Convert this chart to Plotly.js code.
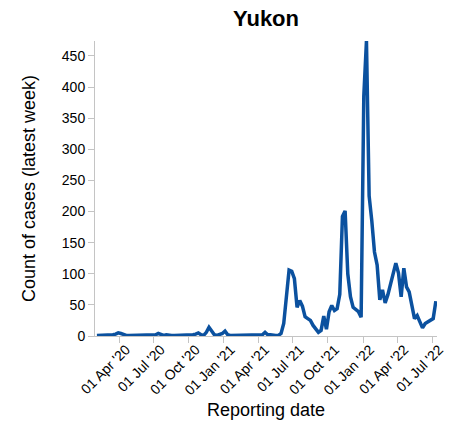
<!DOCTYPE html>
<html>
<head>
<meta charset="utf-8">
<script src="https://cdn.plot.ly/plotly-3.0.1.min.js"></script>
<style>
  html, body { margin: 0; padding: 0; background: #fff; }
  #chart { width: 452px; height: 427px; }
</style>
</head>
<body>
<div id="chart"></div>
<script>
// Weekly reporting dates start (one point per week)
const firstWeek = '2020-02-03';

// Count of cases (latest week), Yukon
const cases = [
  1, 1, 1, 1, 1, 1, 2, 3, 5, 4,
  2, 1, 1, 1, 1, 1, 1, 1, 1, 1,
  1, 1, 2, 4, 2, 1, 2, 1, 1, 1,
  1, 1, 1, 1, 1, 1, 2, 3, 5, 2,
  1, 6, 14, 8, 2, 1, 2, 4, 8, 2,
  1, 1, 1, 1, 1, 2, 1, 1, 1, 1,
  2, 1, 2, 6, 2, 2, 1, 1, 1, 4,
  20, 65, 106, 104, 92, 46, 57, 48, 31, 28,
  25, 17, 12, 6, 9, 32, 11, 39, 49, 41,
  44, 67, 192, 201, 100, 63, 46, 42, 39, 30,
  385, 474, 225, 185, 135, 114, 58, 74, 53, 66,
  82, 99, 117, 101, 63, 109, 79, 71, 49, 28,
  33, 22, 13, 20, 23, 26, 28, 56
];

const titleText = 'Yukon';
const xTitle = 'Reporting date';
const yTitle = 'Count of cases (latest week)';

const startMs = Date.parse(firstWeek + 'T00:00:00Z');
const dates = [];
for (let i = 0; i < cases.length; i++) {
  dates.push(new Date(startMs + i * 7 * 86400000).toISOString().slice(0, 10));
}

const axisGrey = '#c4c4c4';
const font = 'Liberation Sans, Arial, sans-serif';

const trace = {
  x: dates,
  y: cases,
  type: 'scatter',
  mode: 'lines',
  line: { color: '#0b519f', width: 3.5 },
  hoverinfo: 'x+y'
};

const layout = {
  width: 452,
  height: 427,
  margin: { l: 95, r: 15, t: 41, b: 91 },
  paper_bgcolor: '#fff',
  plot_bgcolor: '#fff',
  font: { family: font, color: '#000' },
  showlegend: false,
  title: {
    text: '<b>' + titleText + '</b>',
    font: { family: font, size: 22, color: '#000' },
    xref: 'paper', x: 0.5, xanchor: 'center',
    yref: 'container', y: 1 - 18 / 427, yanchor: 'middle'
  },
  xaxis: {
    type: 'date',
    range: ['2020-01-29', '2022-07-14'],
    tick0: '2020-01-01',
    dtick: 'M3',
    tickformat: "%d %b '%y",
    tickangle: -45,
    ticks: 'outside',
    ticklen: 6,
    tickcolor: axisGrey,
    showline: true,
    linecolor: axisGrey,
    linewidth: 1,
    showgrid: false,
    zeroline: false,
    ticklabelshift: 7,
    ticklabelstandoff: -7,
    tickfont: { family: font, size: 14, color: '#000' }
  },
  yaxis: {
    range: [0, 474],
    dtick: 50,
    tick0: 0,
    ticks: 'outside',
    ticklen: 6,
    tickcolor: axisGrey,
    showline: true,
    linecolor: axisGrey,
    linewidth: 1,
    showgrid: false,
    zeroline: false,
    tickfont: { family: font, size: 14, color: '#000' },
    title: { text: yTitle, font: { family: font, size: 18, color: '#000' }, standoff: 21 }
  },
  annotations: [{
    text: xTitle,
    xref: 'paper', x: 0.5, xanchor: 'center',
    yref: 'paper', y: (336 - 410) / 295, yanchor: 'middle',
    showarrow: false,
    font: { family: font, size: 18, color: '#000' }
  }]
};

Plotly.newPlot('chart', [trace], layout, { displayModeBar: false, staticPlot: true });
</script>
</body>
</html>
